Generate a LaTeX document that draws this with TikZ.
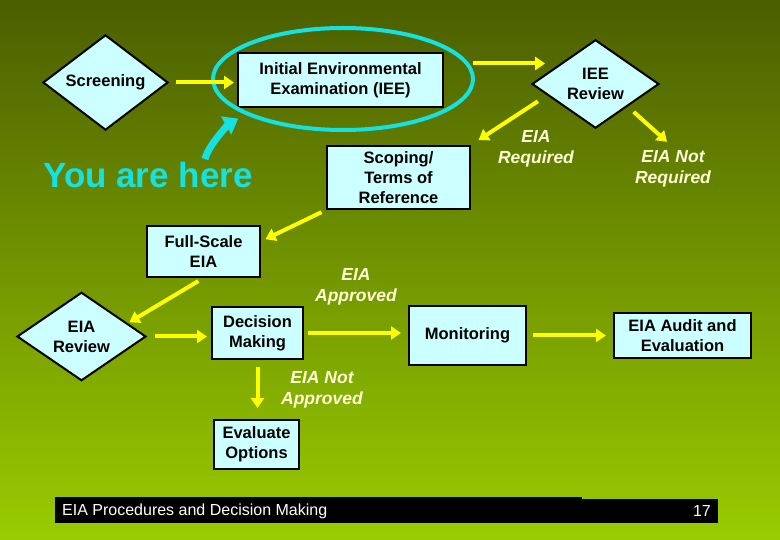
\documentclass[tikz,border=0pt]{standalone}
\usepackage{fontspec}
\setmainfont{Liberation Sans}
\usetikzlibrary{shapes.geometric,arrows.meta,calc}
\definecolor{slidetop}{RGB}{75,94,0}
\definecolor{slidemid}{RGB}{118,156,0}
\definecolor{slidebot}{RGB}{153,204,0}
\definecolor{boxfill}{RGB}{204,255,255}
\definecolor{hereblue}{RGB}{20,225,225}
\definecolor{flowyellow}{RGB}{255,255,0}
\definecolor{labelcream}{RGB}{255,255,215}
\begin{document}
\begin{tikzpicture}[x=1pt,y=-1pt,
    stage/.style={draw=black,line width=2pt,fill=boxfill,align=center,inner sep=0pt,
      font=\fontsize{16.5}{20}\selectfont\bfseries},
    check/.style={stage,diamond},
    flow/.style={draw=flowyellow,line width=4pt,-{Triangle[length=10pt,width=13pt]}},
    branch/.style={text=labelcream,align=center,
      font=\fontsize{17.5}{21}\selectfont\bfseries\itshape}]
    % --- slide background ---
    \useasboundingbox (0,0) rectangle (780,540);
    \shade[top color=slidetop,middle color=slidemid,bottom color=slidebot]
      (0,0) rectangle (780,540);
    % --- screening and IEE ---
    \node[check,minimum width=125,minimum height=79] (screen) at (105.5,82.5) {Screening};
    \node[stage,minimum width=205,minimum height=54] (iee) at (340.5,80)
      {Initial Environmental\\Examination (IEE)};
    \node[draw=hereblue,line width=4pt,ellipse,minimum width=260,minimum height=102]
      (ring) at (343,79) {};
    \node[check,minimum width=127,minimum height=80] (review) at (595.5,84) {IEE\\Review};
    \node[branch] (req) at (536,148.5) {EIA\\Required};
    \node[branch] (notreq) at (673,169) {EIA Not\\Required};
    % --- full-scale EIA ---
    \node[stage,minimum width=143,minimum height=63] (scoping) at (398.5,177.5)
      {Scoping/\\Terms of\\Reference};
    \node[stage,minimum width=113,minimum height=51] (full) at (203.5,251.5)
      {Full-Scale\\EIA};
    \node[check,minimum width=129,minimum height=79] (eiarev) at (81.5,336.5) {EIA\\Review};
    \node[stage,minimum width=91,minimum height=52] (decision) at (257.5,333)
      {Decision\\Making};
    \node[branch] (appr) at (356,287) {EIA\\Approved};
    \node[stage,minimum width=117,minimum height=59] (monitor) at (467.5,335.5) {Monitoring};
    \node[stage,minimum width=137,minimum height=45] (audit) at (682.5,335.5)
      {EIA Audit and\\Evaluation};
    \node[branch] (notappr) at (322,390) {EIA Not\\Approved};
    \node[stage,minimum width=85,minimum height=49] (evaluate) at (256.5,444.5)
      {Evaluate\\Options};
    % --- you are here ---
    \node[text=hereblue,anchor=base,font=\fontsize{35}{40}\selectfont\bfseries]
      (you) at (148,188) {You are here};
    \draw[draw=hereblue,line width=7pt,-{Triangle[length=14pt,width=20pt]},shorten >=8pt]
      ([xshift=57pt]you.north) .. controls +(4,-16) and +(-14,8) .. (ring.200);
    % --- flow arrows ---
    \draw[flow,shorten <=7pt,shorten >=3pt] (screen) -- (screen -| iee.west);
    \draw[flow,shorten <=4pt,shorten >=15pt] (ring.7) -- (ring.7 -| review.150);
    \draw[flow,shorten <=11pt,shorten >=9pt]
      ($(review.west)!0.25!(review.south)$) -- (scoping.north east);
    \draw[flow,shorten <=8pt,shorten >=8pt] (review.south east) -- (notreq.north);
    \draw[flow,shorten <=5pt,shorten >=5pt] (scoping.south west) -- (full.10);
    \draw[flow,shorten <=6pt,shorten >=2pt] (full.south) -- (eiarev.16);
    \draw[flow,shorten <=8pt,shorten >=4pt] (eiarev.east) -- (eiarev.east -| decision.west);
    \draw[flow,shorten <=4pt,shorten >=7pt] (decision.east) -- (decision.east -| monitor.west);
    \draw[flow,shorten <=6pt,shorten >=7pt] (monitor.east) -- (audit.west);
    \draw[flow,shorten <=7pt,shorten >=11pt] (decision.south) -- (decision.south |- evaluate.north);
    % --- footer ---
    \fill[black] (55,497) rectangle (582,523);
    \fill[black] (582,499) rectangle (718,523);
    \node[text=white,anchor=west,inner sep=0pt,font=\fontsize{16}{19}\selectfont]
      (title) at (62,511) {EIA Procedures and Decision Making};
    \node[text=white,anchor=east,inner sep=0pt,font=\fontsize{16}{19}\selectfont]
      (pageno) at (711,511) {17};
  \end{tikzpicture}
\end{document}
